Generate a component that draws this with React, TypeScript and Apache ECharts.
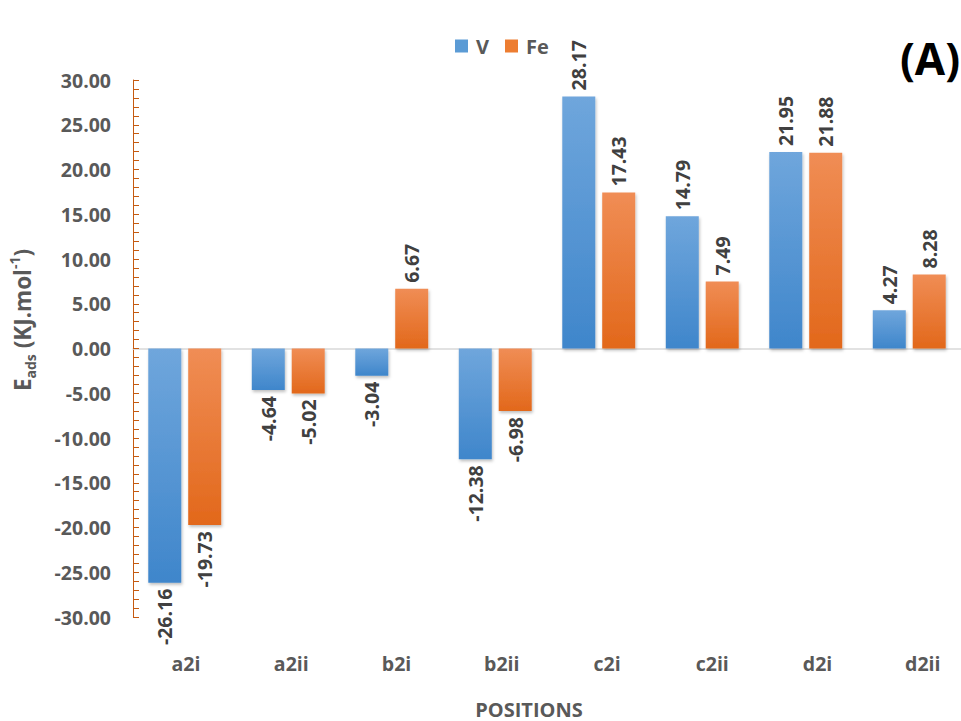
import React, { useEffect, useRef } from "react";
import * as echarts from "echarts";

// Adsorption energies per position, kJ/mol
const positions = ["a2i", "a2ii", "b2i", "b2ii", "c2i", "c2ii", "d2i", "d2ii"];
const vValues = [-26.16, -4.64, -3.04, -12.38, 28.17, 14.79, 21.95, 4.27];
const feValues = [-19.73, -5.02, 6.67, -6.98, 17.43, 7.49, 21.88, 8.28];
const seriesNames = ["V", "Fe"];

const FONT = "'Open Sans', 'Noto Sans', sans-serif";
const GREY = "#595959";

const grad = (top: string, bottom: string) =>
  new echarts.graphic.LinearGradient(0, 0, 0, 1, [
    { offset: 0, color: top },
    { offset: 1, color: bottom },
  ]);

const withLabels = (values: number[]) =>
  values.map((v) => ({
    value: v,
    label: {
      show: true,
      position: v >= 0 ? "top" : "bottom",
      rotate: 90,
      align: v >= 0 ? "left" : "right",
      verticalAlign: "middle",
      distance: 6,
      formatter: (p: any) => Number(p.value).toFixed(2),
      fontFamily: FONT,
      fontWeight: "bold",
      fontSize: 19.5,
      color: "#404040",
    },
  }));

export default function App() {
  const ref = useRef<HTMLDivElement>(null);

  useEffect(() => {
    if (!ref.current) return;
    const chart = echarts.init(ref.current, undefined, { renderer: "svg" });
    const shadow = {
      shadowBlur: 3,
      shadowOffsetX: 1,
      shadowOffsetY: 2,
      shadowColor: "rgba(0,0,0,0.25)",
    };
    chart.setOption({
      animation: false,
      backgroundColor: "#ffffff",
      grid: { left: 133, right: -14, top: 80, bottom: 104, containLabel: false },
      legend: {
        top: 31,
        left: 450,
        itemWidth: 13,
        itemHeight: 13,
        itemGap: 16,
        icon: "rect",
        data: [
          { name: seriesNames[0], itemStyle: { color: "#5b9bd5" } },
          { name: seriesNames[1], itemStyle: { color: "#ed7d31" } },
        ],
        textStyle: {
          fontFamily: FONT,
          fontWeight: "bold",
          fontSize: 20,
          color: GREY,
          padding: [0, 0, 0, 3],
        },
      },
      xAxis: {
        type: "category",
        data: positions,
        axisLine: { show: true, onZero: true, lineStyle: { color: "#d9d9d9", width: 1.5 } },
        axisTick: { show: false },
        axisLabel: { show: false },
        splitLine: { show: false },
      },
      yAxis: {
        type: "value",
        min: -30,
        max: 30,
        interval: 5,
        axisLine: { show: true, lineStyle: { color: "#c55a11", width: 1 } },
        axisTick: { show: true, inside: true, length: 6, lineStyle: { color: "#c55a11" } },
        minorTick: { show: true, splitNumber: 5, length: 6, lineStyle: { color: "#c55a11" } },
        splitLine: { show: false },
        axisLabel: {
          margin: 22,
          formatter: (v: number) => v.toFixed(2),
          fontFamily: FONT,
          fontWeight: "bold",
          fontSize: 19.5,
          color: GREY,
        },
      },
      series: [
        {
          name: seriesNames[0],
          type: "bar",
          barWidth: 33,
          barGap: "21%",
          data: withLabels(vValues),
          itemStyle: { color: grad("#6fa6dc", "#3f86cb"), ...shadow },
        },
        {
          name: seriesNames[1],
          type: "bar",
          barWidth: 33,
          barGap: "21%",
          data: withLabels(feValues),
          itemStyle: { color: grad("#f08d55", "#e2681b"), ...shadow },
        },
      ],
      graphic: [
        // category labels along the bottom, placed under each group
        ...positions.map((p, i) => ({
          type: "text",
          x: 133.4 + 105.25 * (i + 0.5),
          y: 663,
          style: {
            text: p,
            fontFamily: FONT,
            fontWeight: "bold",
            fontSize: 19.5,
            fill: GREY,
            align: "center",
            verticalAlign: "middle",
          },
        })),
        {
          type: "text",
          x: 529,
          y: 709,
          style: {
            text: "POSITIONS",
            fontFamily: FONT,
            fontWeight: "bold",
            fontSize: 20,
            fill: GREY,
            align: "center",
            verticalAlign: "middle",
          },
        },
        {
          type: "text",
          x: 22,
          y: 320,
          rotation: Math.PI / 2,
          style: {
            text: "{e|E}{sub|ads}{e| (KJ.mol}{sup|-1}{e|)}",
            align: "center",
            verticalAlign: "middle",
            rich: {
              e: { fontFamily: FONT, fontWeight: "bold", fontSize: 22.5, fill: GREY, lineHeight: 30 },
              sub: {
                fontFamily: FONT,
                fontWeight: "bold",
                fontSize: 14,
                fill: GREY,
                lineHeight: 30,
                verticalAlign: "bottom",
              },
              sup: {
                fontFamily: FONT,
                fontWeight: "bold",
                fontSize: 14,
                fill: GREY,
                lineHeight: 30,
                verticalAlign: "top",
              },
            },
          },
        },
        {
          type: "text",
          x: 930,
          y: 58,
          style: {
            text: "(A)",
            fontFamily: FONT,
            fontWeight: "bold",
            fontSize: 44,
            fill: "#000000",
            align: "center",
            verticalAlign: "middle",
          },
        },
      ],
    });
    return () => chart.dispose();
  }, []);

  return (
    <div
      ref={ref}
      style={{ position: "fixed", left: 0, top: 0, width: 961, height: 721, overflow: "hidden" }}
    />
  );
}
